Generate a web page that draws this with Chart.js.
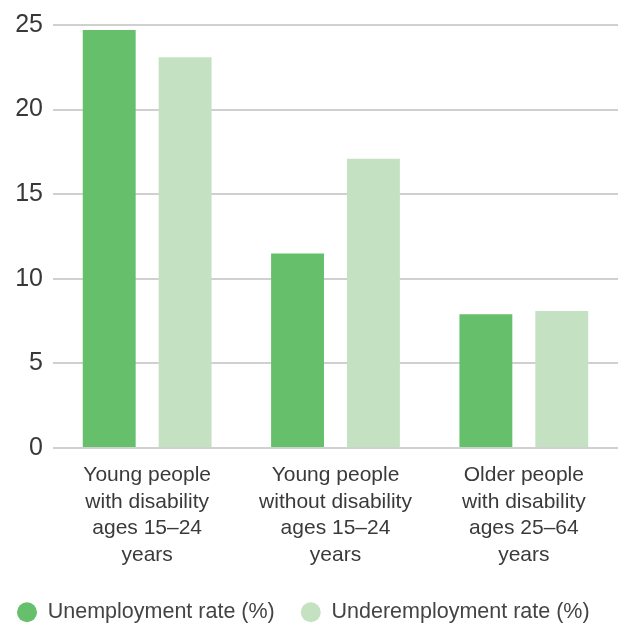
<!DOCTYPE html>
<html>
<head>
<meta charset="utf-8">
<script src="https://cdn.jsdelivr.net/npm/chart.js@4/dist/chart.umd.min.js"></script>
<style>
html,body{margin:0;padding:0;background:#fff;}
#wrap{width:619px;height:624px;position:relative;}
</style>
</head>
<body>
<div id="wrap"><canvas id="c" width="619" height="624"></canvas></div>
<script>
const categories = [
  ["Young people", "with disability", "ages 15\u201324", "years"],
  ["Young people", "without disability", "ages 15\u201324", "years"],
  ["Older people", "with disability", "ages 25\u201364", "years"]
];
const seriesNames = ["Unemployment rate (%)", "Underemployment rate (%)"];
const unemployment = [24.7, 11.5, 7.9];
const underemployment = [23.1, 17.1, 8.1];
const yTicks = [0, 5, 10, 15, 20, 25];

const FONT = "'Liberation Sans', 'Helvetica Neue', Helvetica, Arial, sans-serif";

new Chart(document.getElementById('c'), {
  type: 'bar',
  data: {
    labels: categories,
    datasets: [
      { label: seriesNames[0], data: unemployment, backgroundColor: '#66bf6b',
        categoryPercentage: 0.806, barPercentage: 0.697 },
      { label: seriesNames[1], data: underemployment, backgroundColor: '#c4e2c2',
        categoryPercentage: 0.806, barPercentage: 0.697 }
    ]
  },
  options: {
    responsive: false,
    animation: false,
    layout: { padding: { top: 21, right: 1, left: -9, bottom: -9 } },
    plugins: {
      tooltip: { enabled: false },
      legend: {
        position: 'bottom',
        align: 'start',
        labels: {
          usePointStyle: true,
          pointStyle: 'circle',
          pointStyleWidth: 20,
          boxHeight: 14,
          padding: 26,
          color: '#444',
          font: { family: FONT, size: 21.5 }
        }
      }
    },
    scales: {
      x: {
        grid: { display: false },
        border: { display: false },
        ticks: {
          color: '#3a3a3a',
          padding: 6,
          maxRotation: 0,
          autoSkip: false,
          font: { family: FONT, size: 21, lineHeight: 1.27 }
        },
        afterFit: (s) => { s.height = 127.5; }
      },
      y: {
        min: 0, max: 25,
        afterBuildTicks: (s) => { s.ticks = yTicks.map(v => ({ value: v })); },
        grid: { color: '#d0d0d0', lineWidth: 2, drawTicks: false },
        border: { display: false },
        ticks: {
          color: '#383838',
          padding: 10,
          font: { family: FONT, size: 25 }
        },
        afterFit: (s) => { s.width = 62; }
      }
    }
  }
});
</script>
</body>
</html>
